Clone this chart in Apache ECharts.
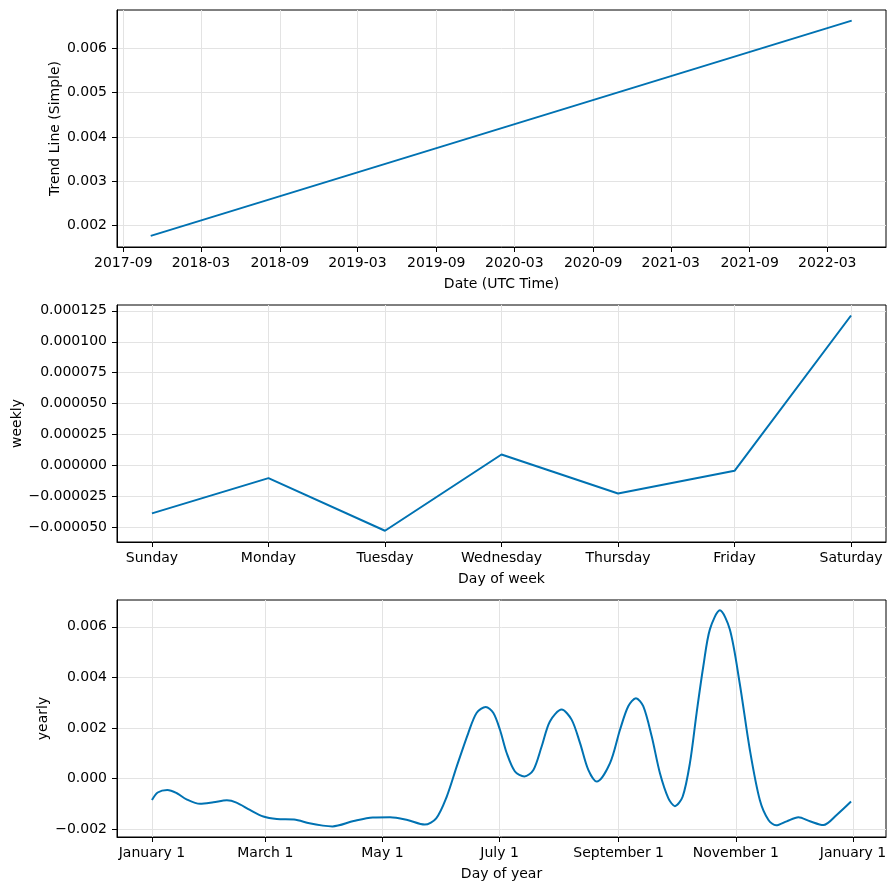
<!DOCTYPE html>
<html>
<head>
<meta charset="utf-8">
<script src="https://cdn.jsdelivr.net/npm/echarts@6/dist/echarts.min.js"></script>
<style>
  html, body { margin: 0; padding: 0; background: #fff; }
  #chart { width: 895px; height: 890px; }
</style>
</head>
<body>
<div id="chart"></div>
<script>
// trend
const trendDates = ["2017-11-04", "2022-04-27"];
const trendValues = [0.00177, 0.00662];
const trendTicks = ["2017-09", "2018-03", "2018-09", "2019-03", "2019-09",
  "2020-03", "2020-09", "2021-03", "2021-09", "2022-03"];
const trendYTicks = [0.002, 0.003, 0.004, 0.005, 0.006];

// weekly
const weekDays = ["Sunday", "Monday", "Tuesday", "Wednesday", "Thursday", "Friday", "Saturday"];
const weeklyValues = [-0.0000387, -0.0000102, -0.0000527, 0.0000089, -0.0000226, -0.0000043, 0.0001212];
const weeklyYTicks = [-0.00005, -0.000025, 0, 0.000025, 0.00005, 0.000075, 0.0001, 0.000125];

// yearly (day of year -> value)
const yearDays = [0, 3, 8, 13, 18, 25, 32, 39, 44, 51, 58, 65, 74, 82, 89, 94,
  105, 115, 124, 133, 142, 148, 153.5, 158.7, 164.7, 169.1, 173.8, 177.7, 181.2,
  184.7, 189, 193.9, 198.6, 202.9, 207.2, 213.3, 218.5, 222.9, 227.2, 231.6,
  238.5, 243.7, 248, 252, 255.8, 260.2, 264.5, 268.9, 272.3, 276.3, 280.1,
  283.6, 287.1, 290.5, 295.7, 300.9, 306, 311.3, 316.5, 321, 325, 330.5,
  336.6, 342.6, 349.6, 356.5, 364];
const yearlyValues = [-0.00085, -0.00055, -0.00045, -0.00058, -0.00082, -0.00100,
  -0.00094, -0.00086, -0.00095, -0.00124, -0.00150, -0.00160, -0.00162, -0.00177,
  -0.00186, -0.00189, -0.00168, -0.00154, -0.00153, -0.00164, -0.00182, -0.00157,
  -0.00071, 0.00048, 0.00180, 0.00260, 0.00283, 0.00260, 0.00193,
  0.00101, 0.00028, 0.00008, 0.00034, 0.00127, 0.00226, 0.00273, 0.00233,
  0.00140, 0.00034, -0.00012,
  0.00061, 0.00193, 0.00286, 0.00318, 0.00286, 0.00167, 0.00021, -0.00078,
  -0.00109, -0.00072, 0.00061, 0.00260, 0.00445, 0.00590, 0.00665, 0.00589,
  0.00378, 0.00114, -0.00085, -0.00164, -0.00185, -0.00169, -0.00153, -0.00169,
  -0.00184, -0.00144, -0.00091];
const yearTickDays = [0, 59, 120, 181, 243, 304, 365];
const yearTickLabels = ["January 1", "March 1", "May 1", "July 1", "September 1", "November 1", "January 1"];
const yearlyYTicks = [-0.002, 0, 0.002, 0.004, 0.006];

const FONT = "DejaVu Sans";
const LINE = "#0072B2";
const GRIDC = "#e3e3e3";

function utc(s) {
  return Date.parse(s.length === 7 ? s + "-01T00:00:00Z" : s + "T00:00:00Z");
}
function minus(s) {
  return s.replace("-", "\u2212");
}

const trendTickVals = trendTicks.map(utc);
const DAY = 86400000;

// common axis look, matplotlib-ish
function xAxisBase(grid, name, nameGap) {
  return {
    gridIndex: grid,
    type: "value",
    name: name,
    nameLocation: "middle",
    nameGap: nameGap,
    nameTextStyle: { fontFamily: FONT, fontSize: 14, color: "#000" },
    axisLine: { show: true, onZero: false, lineStyle: { color: "#000", width: 1 } },
    axisTick: { show: true, length: 5, lineStyle: { color: "#000" } },
    axisLabel: { fontFamily: FONT, fontSize: 14, color: "#000", margin: 9 },
    splitLine: { show: true, lineStyle: { color: GRIDC, width: 1 } },
  };
}
function yAxisBase(grid, name, nameGap, min, max, ticks, digits) {
  return {
    gridIndex: grid,
    type: "value",
    min: min,
    max: max,
    name: name,
    nameLocation: "middle",
    nameGap: nameGap,
    nameRotate: 90,
    nameMoveOverlap: false,
    nameTextStyle: { fontFamily: FONT, fontSize: 14, color: "#000" },
    axisLine: { show: true, onZero: false, lineStyle: { color: "#000", width: 1 } },
    axisTick: { show: true, length: 5, customValues: ticks, lineStyle: { color: "#000" } },
    axisLabel: {
      fontFamily: FONT, fontSize: 14, color: "#000", margin: 10,
      customValues: ticks,
      formatter: (v) => minus(v.toFixed(digits)),
    },
    splitLine: { show: true, lineStyle: { color: GRIDC, width: 1 } },
  };
}

const chart = echarts.init(document.getElementById("chart"), null, { renderer: "canvas" });

const x0 = xAxisBase(0, "Date (UTC Time)", 30);
x0.min = utc("2017-09-01") - 14.7 * DAY;
x0.max = utc("2022-03-01") + 137 * DAY;
x0.axisTick.customValues = trendTickVals;
x0.axisLabel.customValues = trendTickVals;
x0.axisLabel.formatter = (v) => {
  const d = new Date(v);
  return d.getUTCFullYear() + "-" + String(d.getUTCMonth() + 1).padStart(2, "0");
};

const x1 = xAxisBase(1, "Day of week", 30);
x1.min = -0.3;
x1.max = 6.3;
x1.axisTick.customValues = weekDays.map((d, i) => i);
x1.axisLabel.customValues = weekDays.map((d, i) => i);
x1.axisLabel.formatter = (v) => weekDays[Math.round(v)];

const x2 = xAxisBase(2, "Day of year", 30);
x2.min = -18.2;
x2.max = 382.2;
x2.axisTick.customValues = yearTickDays;
x2.axisLabel.customValues = yearTickDays;
x2.axisLabel.formatter = (v) => yearTickLabels[yearTickDays.indexOf(v)];

const gridBase = { left: 117, width: 769, height: 237, show: true, borderColor: "#000", borderWidth: 1, outerBoundsMode: "none", containLabel: false };

const option = {
  backgroundColor: "#fff",
  animation: false,
  grid: [
    Object.assign({}, gridBase, { top: 10 }),
    Object.assign({}, gridBase, { top: 305 }),
    Object.assign({}, gridBase, { top: 600 }),
  ],
  xAxis: [x0, x1, x2],
  yAxis: [
    yAxisBase(0, "Trend Line (Simple)", 55, 0.00152, 0.00686, trendYTicks, 3),
    yAxisBase(1, "weekly", 93, -0.0000618, 0.0001297, weeklyYTicks, 6),
    yAxisBase(2, "yearly", 67, -0.00231, 0.00706, yearlyYTicks, 3),
  ],
  series: [
    {
      type: "line",
      xAxisIndex: 0,
      yAxisIndex: 0,
      showSymbol: false,
      lineStyle: { color: LINE, width: 2 },
      data: trendDates.map((d, i) => [utc(d), trendValues[i]]),
    },
    {
      type: "line",
      xAxisIndex: 1,
      yAxisIndex: 1,
      showSymbol: false,
      lineStyle: { color: LINE, width: 2 },
      data: weeklyValues.map((v, i) => [i, v]),
    },
    {
      type: "line",
      xAxisIndex: 2,
      yAxisIndex: 2,
      showSymbol: false,
      smooth: 0.3,
      lineStyle: { color: LINE, width: 2 },
      data: yearDays.map((d, i) => [d, yearlyValues[i]]),
    },
  ],
};

chart.setOption(option);
</script>
</body>
</html>
